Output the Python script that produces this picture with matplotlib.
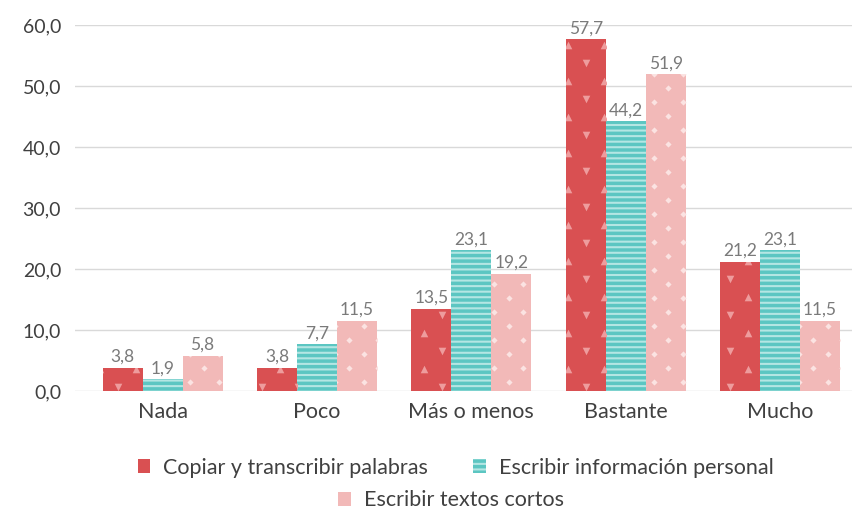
import numpy as np
import matplotlib
matplotlib.use("Agg")
import matplotlib.pyplot as plt
from matplotlib.patches import Patch

categories = ["Nada", "Poco", "Más o menos", "Bastante", "Mucho"]
series_names = ["Copiar y transcribir palabras",
                "Escribir información personal",
                "Escribir textos cortos"]
copiar = [3.8, 3.8, 13.5, 57.7, 21.2]
info_personal = [1.9, 7.7, 23.1, 44.2, 23.1]
textos_cortos = [5.8, 11.5, 19.2, 51.9, 11.5]
y_ticks = [0, 10, 20, 30, 40, 50, 60]

RED, TEAL, PINK = "#D95052", "#5CC6C2", "#F2B9B8"
TRI, STRIPE, DOT = "#EE9C9D", "#B4E6E3", "#FBE3E2"
FONT = "Lato"

plt.rcParams["font.family"] = [FONT, "DejaVu Sans"]
plt.rcParams["hatch.linewidth"] = 1.5

fig = plt.figure(figsize=(8.52, 5.09), dpi=100)
ax = fig.add_axes([75 / 852, 118 / 509, 777 / 852, 366 / 509])
ax.set_xlim(-0.567, 4.466)
ax.set_ylim(0, 60)

x = np.arange(len(categories))
w = 0.259
bars_red = ax.bar(x - w, copiar, w, color=RED, linewidth=0, zorder=2)
bars_teal = ax.bar(x, info_personal, w, color=TEAL, edgecolor=STRIPE,
                   hatch="---", linewidth=0, zorder=2)
bars_pink = ax.bar(x + w, textos_cortos, w, color=PINK, linewidth=0, zorder=2)

# texture: alternating triangles on red bars, small diamonds on pink bars
px_x = 5.033 / 777  # data units per pixel, x
px_y = 60 / 366     # data units per pixel, y
for bar in bars_red:
    gx = np.arange(-0.6, 4.6, 36 * px_x)
    gy = np.arange(0, 62, 36 * px_y)
    X, Y = np.meshgrid(gx, gy)
    sd = ax.scatter((X + 12 * px_x).ravel(), (Y + 4 * px_y).ravel(),
                    marker="v", s=30, color=TRI, linewidths=0, zorder=3)
    su = ax.scatter((X - 6 * px_x).ravel(), (Y - 14 * px_y).ravel(),
                    marker="^", s=30, color=TRI, linewidths=0, zorder=3)
    sd.set_clip_path(bar)
    su.set_clip_path(bar)
for bar in bars_pink:
    gx = np.arange(-0.6, 4.6, 29 * px_x)
    gy = np.arange(0, 62, 28 * px_y)
    X, Y = np.meshgrid(gx, gy)
    for dx, dy in [(0, 0), (14.5, 14)]:
        sp = ax.scatter((X + (dx + 4) * px_x).ravel(), (Y + (dy + 9) * px_y).ravel(),
                        marker="D", s=10, color=DOT, linewidths=0, zorder=3)
        sp.set_clip_path(bar)

for bars, vals in [(bars_red, copiar), (bars_teal, info_personal),
                   (bars_pink, textos_cortos)]:
    for bar, v in zip(bars, vals):
        ax.annotate(f"{v:.1f}".replace(".", ","),
                    (bar.get_x() + bar.get_width() / 2, v),
                    xytext=(0, 2), textcoords="offset points",
                    ha="center", va="bottom", fontsize=12.5, color="#7A7A7A")

ax.set_yticks(y_ticks)
ax.set_yticklabels([f"{t:.1f}".replace(".", ",") for t in y_ticks],
                   fontsize=14, color="#404040")
ax.set_xticks(x)
ax.set_xticklabels(categories, fontsize=15.5, color="#404040")
ax.tick_params(axis="both", length=0)
ax.tick_params(axis="y", pad=10)
ax.tick_params(axis="x", pad=8)
ax.grid(axis="y", color="#D9D9D9", linewidth=1, zorder=0)
ax.set_axisbelow(True)
for s in ax.spines.values():
    s.set_visible(False)

h1 = Patch(facecolor=RED, linewidth=0)
h2 = Patch(facecolor=TEAL, edgecolor=STRIPE, hatch="---", linewidth=0)
h3 = Patch(facecolor=PINK, linewidth=0)
leg_kw = dict(loc="center", frameon=False, fontsize=15.5, handlelength=0.6,
              handleheight=0.6, handletextpad=0.6, labelcolor="#404040")
leg1 = fig.legend([h1, h2], series_names[:2], ncol=2,
                  bbox_to_anchor=(0.535, 0.081), columnspacing=2.1, **leg_kw)
leg2 = fig.legend([h3], series_names[2:],
                  bbox_to_anchor=(0.529, 0.017), **leg_kw)

fig.savefig("out.png", dpi=100, facecolor="white")
